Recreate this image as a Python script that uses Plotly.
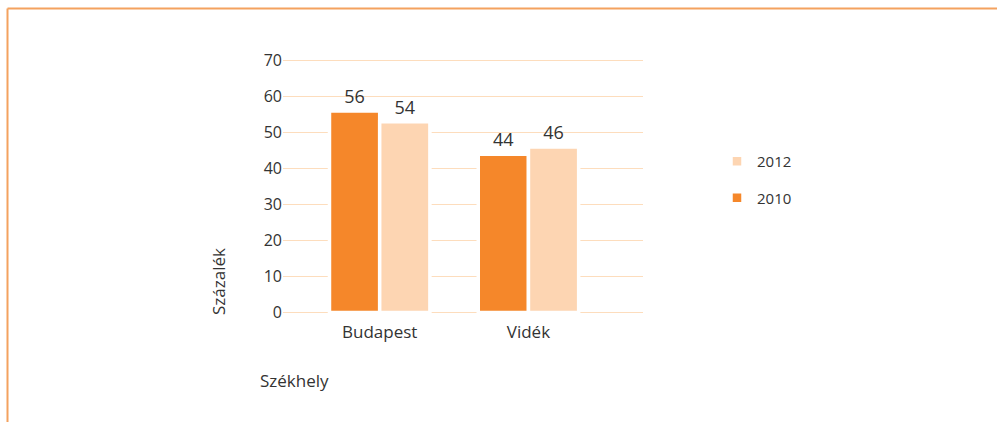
import plotly.graph_objects as go

categories = ["Budapest", "Vidék"]
values_2010 = [56, 44]
values_2012 = [53, 46]
labels_2010 = ["56", "44"]
labels_2012 = ["54", "46"]
y_ticks = [0, 10, 20, 30, 40, 50, 60, 70]

W, H = 997, 422
L, R, T, B = 283, 354, 57, 106
pw, ph = W - L - R, H - T - B

def px(x):
    return (x - L) / pw

def py(y):
    return (H - B - y) / ph

FONT = "Open Sans"
TXT = "#333333"
ORANGE = "#F5872A"
PEACH = "#FDD5B2"
GRID = "#FDDDBD"
FRAME = "#F4A25F"

fig = go.Figure()
fig.add_trace(go.Bar(
    name="2010", x=categories, y=values_2010, text=labels_2010,
    textposition="outside", cliponaxis=False,
    textfont=dict(size=18, color=TXT, family=FONT),
    marker=dict(color=ORANGE, line=dict(color="white", width=3.5)),
    legendgroup="a", legendrank=2,
))
fig.add_trace(go.Bar(
    name="2012", x=categories, y=values_2012, text=labels_2012,
    textposition="outside", cliponaxis=False,
    textfont=dict(size=18, color=TXT, family=FONT),
    marker=dict(color=PEACH, line=dict(color="white", width=3.5)),
    legendgroup="b", legendrank=1,
))

fig.update_layout(
    width=W, height=H,
    margin=dict(l=L, r=R, t=T, b=B),
    paper_bgcolor="white", plot_bgcolor="white",
    barmode="group", bargap=0.325, bargroupgap=0,
    font=dict(family=FONT, color=TXT),
    showlegend=True,
    legend=dict(
        x=px(717), y=py(145), xanchor="left", yanchor="top",
        traceorder="grouped", tracegroupgap=14,
        font=dict(size=15, color=TXT, family=FONT),
        bgcolor="rgba(0,0,0,0)",
    ),
    xaxis=dict(
        range=[-0.65, 1.77], showgrid=False, showline=False, zeroline=False,
        ticks="", ticklabelstandoff=4, tickfont=dict(size=17, color=TXT, family=FONT),
    ),
    yaxis=dict(
        range=[-1, 71], tickvals=y_ticks, showgrid=True, gridcolor=GRID,
        gridwidth=1, zeroline=False, showline=False, ticks="",
        tickfont=dict(size=16, color=TXT, family=FONT),
    ),
    shapes=[
        dict(type="line", xref="paper", yref="paper",
             x0=px(7.5), x1=px(997), y0=py(8.5), y1=py(8.5),
             line=dict(color=FRAME, width=2)),
        dict(type="line", xref="paper", yref="paper",
             x0=px(7.5), x1=px(7.5), y0=py(8.5), y1=py(422),
             line=dict(color=FRAME, width=2)),
    ],
    annotations=[
        dict(text="Százalék", xref="paper", yref="paper", x=px(218), y=py(282),
             textangle=-90, showarrow=False, xanchor="center", yanchor="middle",
             font=dict(size=17, color=TXT, family=FONT)),
        dict(text="Székhely", xref="paper", yref="paper", x=px(258), y=py(380),
             showarrow=False, xanchor="left", yanchor="middle",
             font=dict(size=17, color=TXT, family=FONT)),
    ],
)

fig.write_html("out.html", config={"displayModeBar": False},
               post_script="document.body.style.margin='0px';")
